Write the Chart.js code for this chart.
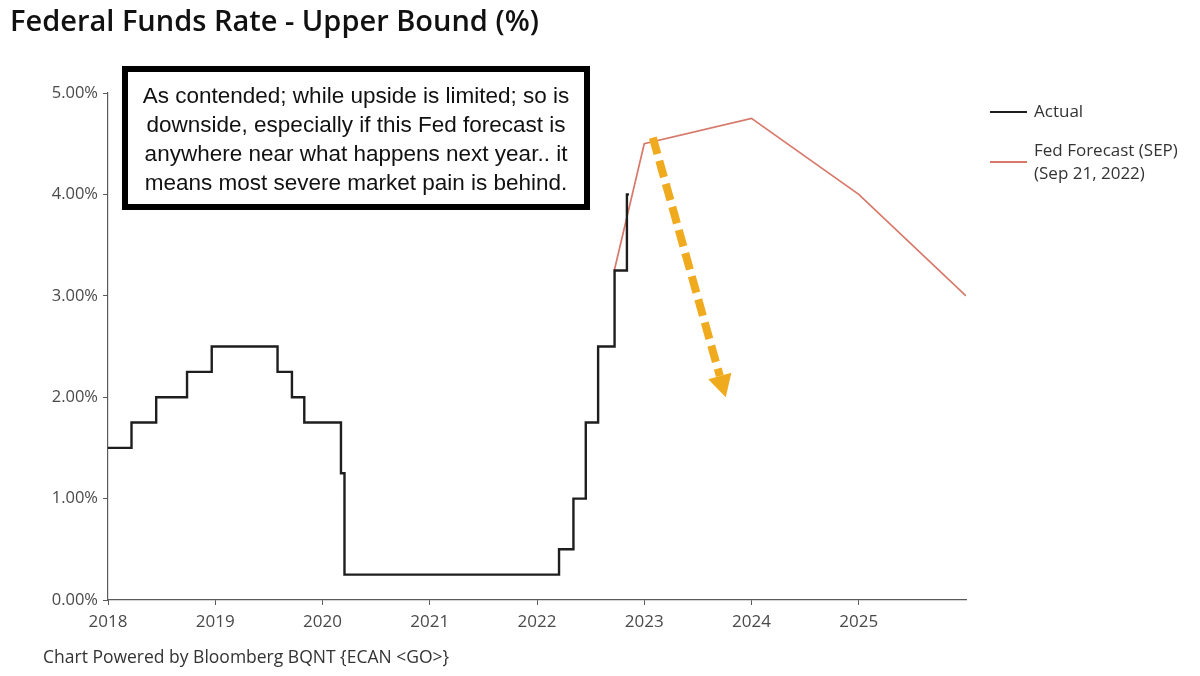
<!DOCTYPE html>
<html>
<head>
<meta charset="utf-8">
<script src="https://cdn.jsdelivr.net/npm/chart.js@4.4.1/dist/chart.umd.min.js"></script>
<style>
  html, body { margin: 0; padding: 0; background: #fff; }
  #wrap { position: relative; width: 1200px; height: 676px; overflow: hidden; }
  #c { position: absolute; left: 0; top: 0; }
</style>
</head>
<body>
<div id="wrap"><canvas id="c" width="1200" height="676"></canvas></div>
<script>
// ---------- DATA ----------
const titleText = 'Federal Funds Rate - Upper Bound (%)';
const footerText = 'Chart Powered by Bloomberg BQNT {ECAN <GO>}';

const actualLabel = 'Actual';
const actualDates = ['2018-01-01','2018-03-22','2018-06-14','2018-09-27','2018-12-20',
  '2019-08-01','2019-09-19','2019-10-31','2020-03-04','2020-03-16',
  '2022-03-17','2022-05-05','2022-06-16','2022-07-28','2022-09-22','2022-11-03','2022-11-10'];
const actualValues = [1.50,1.75,2.00,2.25,2.50,2.25,2.00,1.75,1.25,0.25,0.50,1.00,1.75,2.50,3.25,4.00,4.00];

const forecastLabel = ['Fed Forecast (SEP)', '(Sep 21, 2022)'];
const forecastDates = ['2022-09-21','2023-01-01','2024-01-01','2025-01-01','2026-01-01'];
const forecastValues = [3.25, 4.50, 4.75, 4.00, 3.00];

const xTickYears = [2018, 2019, 2020, 2021, 2022, 2023, 2024, 2025];
const yTickValues = [0, 1, 2, 3, 4, 5];

const annotationLines = [
  'As contended; while upside is limited; so is',
  'downside, especially if this Fed forecast is',
  'anywhere near what happens next year.. it',
  'means most severe market pain is behind.'
];
// arrow annotation in data coordinates (decimal year, %)
const arrowFrom = [2023.08, 4.56];
const arrowTo = [2023.76, 2.00];

// ---------- helpers ----------
function yearFrac(s) {
  const d = Date.UTC(+s.slice(0,4), +s.slice(5,7) - 1, +s.slice(8,10));
  const y = +s.slice(0,4);
  const a = Date.UTC(y, 0, 1), b = Date.UTC(y + 1, 0, 1);
  return y + (d - a) / (b - a);
}
const actualPts = actualDates.map((d, i) => ({ x: yearFrac(d), y: actualValues[i] }));
const forecastPts = forecastDates.map((d, i) => ({ x: yearFrac(d), y: forecastValues[i] }));

const AXIS = '#5a5a5a';
const TICKTXT = '#4a4a4a';
const ACTUAL_COLOR = '#1e1e1e';
const FORECAST_COLOR = '#d7796a';
const ARROW_COLOR = '#f0aa1e';

// ---------- plugins ----------
const decorPlugin = {
  id: 'decor',
  afterDatasetsDraw(chart) {
    const ctx = chart.ctx;
    const xs = chart.scales.x, ys = chart.scales.y;
    const x0 = xs.getPixelForValue(arrowFrom[0]), y0 = ys.getPixelForValue(arrowFrom[1]);
    const x1 = xs.getPixelForValue(arrowTo[0]), y1 = ys.getPixelForValue(arrowTo[1]);
    const ang = Math.atan2(y1 - y0, x1 - x0);
    const headLen = 22, headW = 12;
    const bx = x1 - headLen * Math.cos(ang), by = y1 - headLen * Math.sin(ang);
    ctx.save();
    ctx.strokeStyle = ARROW_COLOR;
    ctx.fillStyle = ARROW_COLOR;
    ctx.lineWidth = 8;
    ctx.setLineDash([17, 7]);
    ctx.lineCap = 'butt';
    ctx.beginPath();
    ctx.moveTo(x0, y0);
    ctx.lineTo(bx, by);
    ctx.stroke();
    ctx.setLineDash([]);
    ctx.beginPath();
    ctx.moveTo(x1, y1);
    ctx.lineTo(bx + headW * Math.cos(ang + Math.PI / 2), by + headW * Math.sin(ang + Math.PI / 2));
    ctx.lineTo(bx + headW * Math.cos(ang - Math.PI / 2), by + headW * Math.sin(ang - Math.PI / 2));
    ctx.closePath();
    ctx.fill();
    ctx.restore();
  },
  afterDraw(chart) {
    const ctx = chart.ctx;
    ctx.save();
    // title
    ctx.fillStyle = '#111';
    ctx.font = '600 29px "Open Sans"';
    ctx.textBaseline = 'middle';
    ctx.textAlign = 'left';
    ctx.fillText(titleText, 10, 23);
    // footer
    ctx.fillStyle = '#333';
    ctx.font = '17.5px "Open Sans"';
    ctx.fillText(footerText, 43, 658);

    // legend
    ctx.font = '17px "Open Sans"';
    ctx.fillStyle = '#333';
    ctx.lineWidth = 2;
    ctx.strokeStyle = ACTUAL_COLOR;
    ctx.beginPath(); ctx.moveTo(990, 112); ctx.lineTo(1027, 112); ctx.stroke();
    ctx.fillText(actualLabel, 1034, 112);
    ctx.strokeStyle = FORECAST_COLOR;
    ctx.beginPath(); ctx.moveTo(990, 162); ctx.lineTo(1027, 162); ctx.stroke();
    forecastLabel.forEach((t, i) => ctx.fillText(t, 1034, 151 + i * 23));

    // annotation box
    const bx = 122, by = 66, bw = 468, bh = 144;
    ctx.fillStyle = '#fff';
    ctx.fillRect(bx, by, bw, bh);
    ctx.lineWidth = 6;
    ctx.strokeStyle = '#000';
    ctx.strokeRect(bx + 3, by + 3, bw - 6, bh - 6);
    ctx.fillStyle = '#111';
    ctx.font = '22.5px "Liberation Sans", Arial, sans-serif';
    ctx.textAlign = 'center';
    annotationLines.forEach((t, i) => ctx.fillText(t, bx + bw / 2, 97 + i * 29));
    ctx.restore();
  }
};

// ---------- chart ----------
new Chart(document.getElementById('c'), {
  type: 'line',
  data: {
    datasets: [
      {
        label: actualLabel,
        data: actualPts,
        borderColor: ACTUAL_COLOR,
        borderWidth: 2.4,
        stepped: true,
        pointRadius: 0,
        fill: false
      },
      {
        label: forecastLabel.join(' '),
        data: forecastPts,
        borderColor: FORECAST_COLOR,
        borderWidth: 1.7,
        pointRadius: 0,
        tension: 0,
        fill: false
      }
    ]
  },
  options: {
    responsive: false,
    animation: false,
    layout: { padding: { left: 0, top: 93, right: 234, bottom: 36 } },
    plugins: { legend: { display: false }, tooltip: { enabled: false } },
    scales: {
      x: {
        type: 'linear',
        min: 2018, max: 2026,
        afterBuildTicks(scale) { scale.ticks = xTickYears.map(v => ({ value: v })); },
        afterFit(scale) { scale.height = 40; },
        grid: { display: true, drawOnChartArea: false, drawTicks: true, tickLength: 5, color: AXIS, lineWidth: 1 },
        border: { display: true, color: AXIS, width: 1.2 },
        ticks: {
          color: TICKTXT, padding: 7, maxRotation: 0, autoSkip: false,
          font: { family: 'Open Sans', size: 17 },
          callback: v => String(v)
        }
      },
      y: {
        type: 'linear',
        min: 0, max: 5,
        afterBuildTicks(scale) { scale.ticks = yTickValues.map(v => ({ value: v })); },
        afterFit(scale) { scale.width = 108; },
        grid: { display: true, drawOnChartArea: false, drawTicks: true, tickLength: 5, color: AXIS, lineWidth: 1 },
        border: { display: true, color: AXIS, width: 1.2 },
        ticks: {
          color: TICKTXT, padding: 5,
          font: { family: 'Open Sans', size: 16.5 },
          callback: v => v.toFixed(2) + '%'
        }
      }
    }
  },
  plugins: [decorPlugin]
});
</script>
</body>
</html>
